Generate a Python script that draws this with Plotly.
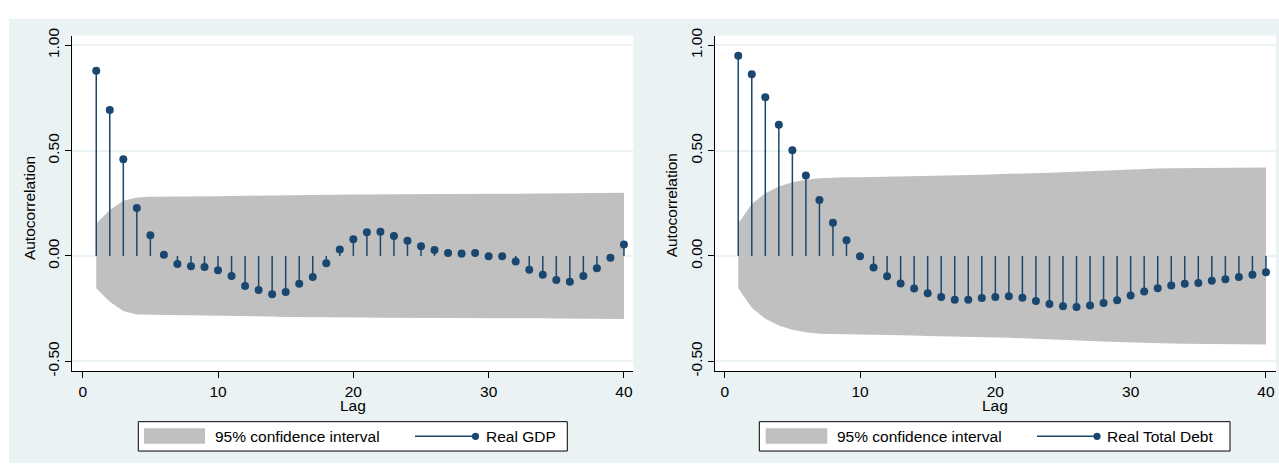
import plotly.graph_objects as go

# ---------------- data ----------------
lags = list(range(1, 41))

gdp_acf = [0.879, 0.693, 0.459, 0.228, 0.098, 0.006, -0.038, -0.049, -0.052, -0.068,
           -0.095, -0.143, -0.162, -0.182, -0.171, -0.132, -0.100, -0.035, 0.031, 0.079,
           0.112, 0.115, 0.095, 0.072, 0.046, 0.028, 0.014, 0.011, 0.014, -0.002,
           -0.002, -0.026, -0.066, -0.089, -0.114, -0.122, -0.095, -0.059, -0.009, 0.054]

debt_acf = [0.951, 0.863, 0.754, 0.623, 0.502, 0.382, 0.265, 0.158, 0.075, -0.002,
            -0.055, -0.097, -0.131, -0.155, -0.177, -0.195, -0.208, -0.208, -0.200, -0.195,
            -0.191, -0.199, -0.214, -0.228, -0.239, -0.243, -0.235, -0.223, -0.211, -0.188,
            -0.169, -0.154, -0.140, -0.132, -0.129, -0.118, -0.111, -0.100, -0.089, -0.078]

# half-width of the 95% confidence band at each lag
gdp_ci = [0.154, 0.218, 0.262, 0.278, 0.281, 0.281, 0.282, 0.282, 0.282, 0.283,
          0.285, 0.286, 0.287, 0.288, 0.290, 0.290, 0.291, 0.291, 0.291, 0.292,
          0.292, 0.293, 0.293, 0.294, 0.294, 0.294, 0.294, 0.295, 0.295, 0.295,
          0.295, 0.295, 0.296, 0.296, 0.297, 0.298, 0.299, 0.299, 0.300, 0.300]

debt_ci = [0.154, 0.246, 0.298, 0.330, 0.350, 0.362, 0.369, 0.372, 0.374, 0.374,
           0.375, 0.376, 0.377, 0.378, 0.380, 0.381, 0.383, 0.385, 0.386, 0.388,
           0.389, 0.391, 0.393, 0.395, 0.397, 0.400, 0.403, 0.406, 0.409, 0.412,
           0.414, 0.415, 0.416, 0.417, 0.418, 0.419, 0.419, 0.420, 0.420, 0.420]

series_names = ["Real GDP", "Real Total Debt"]
ci_label = "95% confidence interval"
x_title = "Lag"
y_title = "Autocorrelation"
x_ticks = [0, 10, 20, 30, 40]
y_ticks = [-0.5, 0.0, 0.5, 1.0]
y_ticktext = ["-0.50", "0.00", "0.50", "1.00"]

# ---------------- style ----------------
W, H = 1279, 468
BG = "#eaf2f3"
NAVY = "#1a476f"
CI_GRAY = "#c0c0c0"
FONT = "Arial, Liberation Sans, sans-serif"
FS = 15.5


def px(x):
    return x / W


def py(y):
    return 1 - y / H


fig = go.Figure()

panels = [
    dict(acf=gdp_acf, ci=gdp_ci, name=series_names[0], xa="x", ya="y",
         left=72.3, right=633.3, xr=[-0.77, 40.69]),
    dict(acf=debt_acf, ci=debt_ci, name=series_names[1], xa="x2", ya="y2",
         left=714.7, right=1275.7, xr=[-0.74, 40.72]),
]
TOP, BOTTOM = 28.3, 373.3
YR = [-0.546, 1.0466]

for p in panels:
    # confidence band
    fig.add_trace(go.Scatter(
        x=lags + lags[::-1],
        y=p["ci"] + [-v for v in p["ci"][::-1]],
        fill="toself", fillcolor=CI_GRAY, mode="lines",
        line=dict(width=0, color=CI_GRAY), hoverinfo="skip",
        xaxis=p["xa"], yaxis=p["ya"], showlegend=False))
    # spikes
    sx, sy = [], []
    for lag, r in zip(lags, p["acf"]):
        sx += [lag, lag, None]
        sy += [0, r, None]
    fig.add_trace(go.Scatter(
        x=sx, y=sy, mode="lines", line=dict(color=NAVY, width=1.5),
        hoverinfo="skip", xaxis=p["xa"], yaxis=p["ya"], showlegend=False))
    # markers
    fig.add_trace(go.Scatter(
        x=lags, y=p["acf"], mode="markers", name=p["name"],
        marker=dict(color=NAVY, size=8),
        xaxis=p["xa"], yaxis=p["ya"], showlegend=False))

shapes = []
annotations = []

# graph region background
shapes.append(dict(type="rect", xref="paper", yref="paper", x0=px(9), x1=1,
                   y0=0, y1=py(11), fillcolor=BG, line=dict(width=0), layer="below"))

axis_common = dict(showline=True, linecolor="black", linewidth=1, ticks="outside",
                   ticklen=6, tickcolor="black", tickwidth=1,
                   tickfont=dict(family=FONT, size=FS, color="black"),
                   zeroline=False, fixedrange=True)

layout_axes = {}
for i, p in enumerate(panels):
    sfx = "" if i == 0 else "2"
    # white plot region
    shapes.append(dict(type="rect", xref="paper", yref="paper",
                       x0=px(p["left"]), x1=px(p["right"]), y0=py(BOTTOM), y1=py(TOP),
                       fillcolor="white", line=dict(width=0), layer="below"))
    layout_axes["xaxis" + sfx] = dict(
        domain=[px(p["left"]), px(p["right"])], range=p["xr"],
        tickvals=x_ticks, showgrid=False, anchor="y" + sfx, **axis_common)
    layout_axes["yaxis" + sfx] = dict(
        domain=[py(BOTTOM), py(TOP)], range=YR, tickvals=y_ticks, ticktext=y_ticktext,
        tickangle=-90, showgrid=True, gridcolor=BG, gridwidth=1.5,
        anchor="x" + sfx, **axis_common)

# axis titles
annotations += [
    dict(text=x_title, x=px(353.3), y=py(409.0), xref="paper", yref="paper",
         showarrow=False, xanchor="center", yanchor="middle",
         font=dict(family=FONT, size=FS, color="black")),
    dict(text=x_title, x=px(995.0), y=py(409.0), xref="paper", yref="paper",
         showarrow=False, xanchor="center", yanchor="middle",
         font=dict(family=FONT, size=FS, color="black")),
    dict(text=y_title, x=px(29.3), y=py(205.5), xref="paper", yref="paper",
         showarrow=False, xanchor="center", yanchor="middle", textangle=-90,
         font=dict(family=FONT, size=FS, color="black")),
    dict(text=y_title, x=px(671.0), y=py(203.0), xref="paper", yref="paper",
         showarrow=False, xanchor="center", yanchor="middle", textangle=-90,
         font=dict(family=FONT, size=FS, color="black")),
]

# legends (drawn as boxes + text, Stata style)
legends = [
    dict(box=(138.3, 567.3), sw=(144, 205), txt=215, ln=(415, 476), mk=475.5,
         name=series_names[0]),
    dict(box=(759.3, 1230.0), sw=(765.7, 827.3), txt=837.3, ln=(1037, 1097.7), mk=1097.0,
         name=series_names[1]),
]
LT, LB, LY = 425.5, 455.7, 440.6
for lg in legends:
    shapes.append(dict(type="rect", xref="paper", yref="paper",
                       x0=px(lg["box"][0]), x1=px(lg["box"][1]), y0=py(LB), y1=py(LT),
                       fillcolor="white", line=dict(color="black", width=1)))
    shapes.append(dict(type="rect", xref="paper", yref="paper",
                       x0=px(lg["sw"][0]), x1=px(lg["sw"][1]), y0=py(448.3), y1=py(432.3),
                       fillcolor=CI_GRAY, line=dict(width=0)))
    shapes.append(dict(type="line", xref="paper", yref="paper",
                       x0=px(lg["ln"][0]), x1=px(lg["ln"][1]), y0=py(LY), y1=py(LY),
                       line=dict(color=NAVY, width=1.5)))
    shapes.append(dict(type="circle", xref="paper", yref="paper",
                       xsizemode="pixel", ysizemode="pixel",
                       xanchor=px(lg["mk"]), yanchor=py(LY),
                       x0=-3.6, x1=3.6, y0=-3.6, y1=3.6,
                       fillcolor=NAVY, line=dict(width=0)))
    annotations.append(dict(text=ci_label, x=px(lg["txt"] - 2), y=py(LY), xref="paper",
                            yref="paper", showarrow=False, xanchor="left", yanchor="middle",
                            font=dict(family=FONT, size=FS, color="black")))
    annotations.append(dict(text=lg["name"], x=px(lg["ln"][1] + 7.5), y=py(LY),
                            xref="paper", yref="paper", showarrow=False,
                            xanchor="left", yanchor="middle",
                            font=dict(family=FONT, size=FS, color="black")))

fig.update_layout(
    width=W, height=H, autosize=False,
    margin=dict(l=0, r=0, t=0, b=0, pad=0),
    paper_bgcolor="white", plot_bgcolor="rgba(0,0,0,0)",
    showlegend=False, shapes=shapes, annotations=annotations,
    font=dict(family=FONT, size=FS, color="black"),
    **layout_axes,
)

fig.write_html(
    "out.html",
    config={"displayModeBar": False},
    post_script="document.body.style.margin='0px';document.body.style.padding='0px';"
                "document.body.style.overflow='hidden';",
)
